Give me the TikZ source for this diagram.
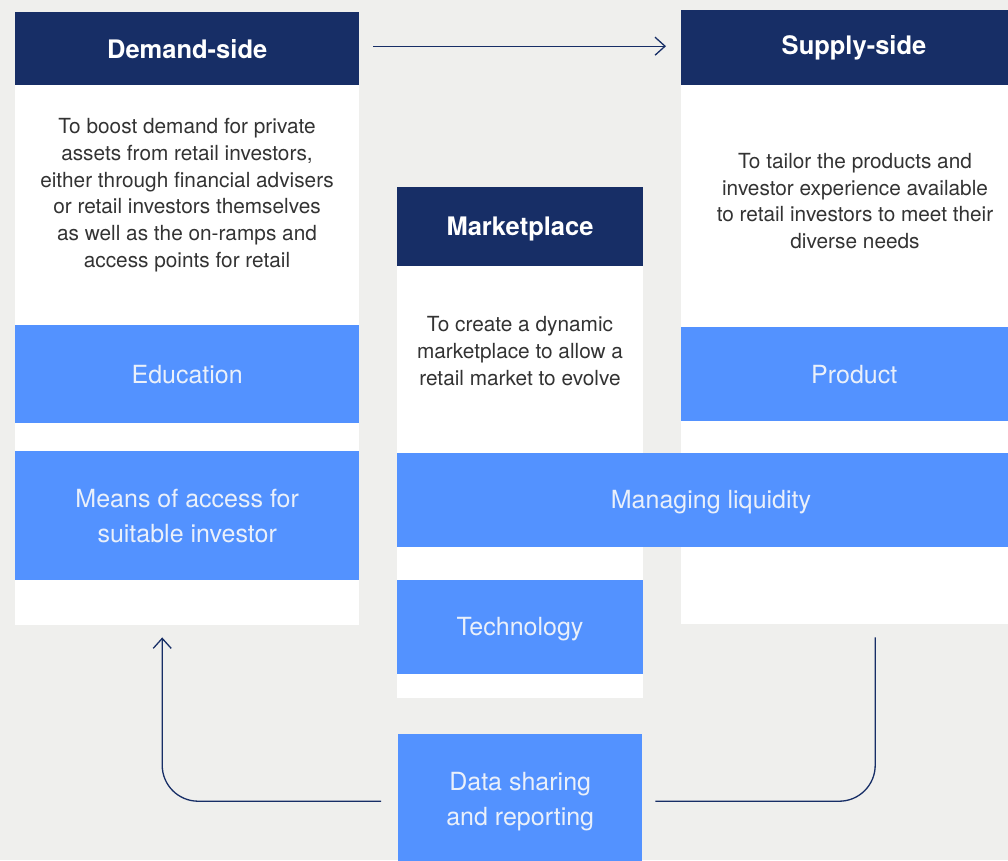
\documentclass[tikz,border=0pt]{standalone}
\usepackage{fontspec}
\setmainfont{TeX Gyre Heros}
\usetikzlibrary{arrows.meta}
\definecolor{bgc}{HTML}{EFEFED}
\definecolor{navy}{HTML}{172E66}
\definecolor{bluebox}{HTML}{5392FF}
\definecolor{desc}{HTML}{333333}
\definecolor{lighttext}{HTML}{EAF0FA}
\tikzset{
  colbox/.style={fill=white, draw=none, anchor=north west, inner sep=0pt},
  headbox/.style={fill=navy, draw=none, anchor=north west, inner sep=0pt, text=white,
    font=\fontsize{25.5}{30}\selectfont\bfseries},
  headlabel/.style={text=white, inner sep=0pt, font=\fontsize{25.5}{30}\selectfont\bfseries},
  bluebx/.style={fill=bluebox, draw=none, anchor=north west, inner sep=0pt, text=lighttext,
    align=center, font=\fontsize{25}{35}\selectfont},
  bluelabel/.style={text=lighttext, inner sep=0pt, font=\fontsize{25}{35}\selectfont},
  desctext/.style={text=desc, align=center, inner sep=0pt, font=\fontsize{20.8}{26.7}\selectfont},
  conn/.style={draw=navy, line width=1.3pt, rounded corners=36pt},
  tip/.style={-{Straight Barb[length=10pt,width=18pt,line width=1.3pt]}}
}
\begin{document}
\begin{tikzpicture}[x=1pt,y=-1pt]
\useasboundingbox (0,0) rectangle (1008,860);
\clip (0,0) rectangle (1008,860);
\fill[bgc] (0,0) rectangle (1008,860);
% columns
\node[colbox, minimum width=344pt, minimum height=613pt] (dcol) at (15,12) {};
\node[colbox, minimum width=246pt, minimum height=511pt] (mcol) at (397,187) {};
\node[colbox, minimum width=346pt, minimum height=614pt] (scol) at (681,10) {};
% headers
\node[headbox, minimum width=344pt, minimum height=73pt] (dh) at (15,12) {Demand-side};
\node[headbox, minimum width=246pt, minimum height=79pt] (mh) at (397,187) {};
\node[headlabel] (mhl) at (520,229) {Marketplace};
\node[headbox, minimum width=346pt, minimum height=75pt] (sh) at (681,10) {};
\node[headlabel] (shl) at (854,48) {Supply-side};
% descriptions
\node[desctext] (dd) at (187,195) {To boost demand for private\\assets from retail investors,\\either through financial advisers\\or retail investors themselves\\as well as the on-ramps and\\access points for retail};
\node[desctext] (md) at (520,351) {To create a dynamic\\marketplace to allow a\\retail market to evolve};
\node[desctext] (sd) at (855,201) {To tailor the products and\\investor experience available\\to retail investors to meet their\\diverse needs};
% blue boxes
\node[bluebx, minimum width=344pt, minimum height=98pt] (edu) at (15,325) {Education};
\node[bluebx, minimum width=344pt, minimum height=129pt] (acc) at (15,451) {Means of access for\\suitable investor};
\node[bluebx, minimum width=346pt, minimum height=94pt] (prod) at (681,327) {Product};
\node[bluebx, minimum width=630pt, minimum height=94pt] (liq) at (397,453) {};
\node[bluelabel] (liql) at (711,502) {Managing liquidity};
\node[bluebx, minimum width=246pt, minimum height=94pt] (tech) at (397,580) {};
\node[bluelabel] (techl) at (520,629) {Technology};
\node[bluebx, minimum width=244pt, minimum height=134pt] (ds) at (398,734) {Data sharing\\and reporting};
% connectors
\draw[conn, tip, rounded corners=0pt] ([xshift=14pt,yshift=2.5pt]dh.east) -- ([xshift=-15pt,yshift=1.5pt]sh.west);
\draw[conn, tip] ([xshift=-17pt]ds.west) -| ([xshift=-25pt,yshift=-12pt]dcol.south);
\draw[conn] ([xshift=13pt]ds.east) -| ([xshift=21pt,yshift=-13pt]scol.south);
\end{tikzpicture}
\end{document}
